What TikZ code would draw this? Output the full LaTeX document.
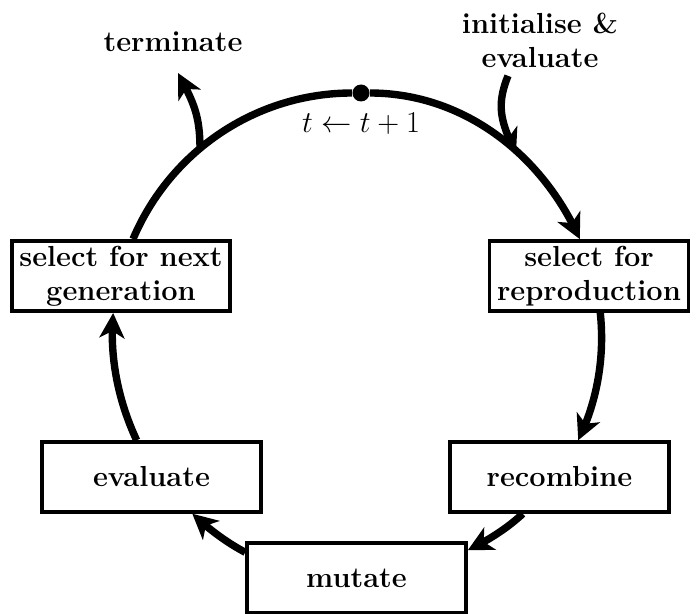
\documentclass[tikz,border=0pt]{standalone}
\usetikzlibrary{arrows.meta,bending,positioning}

\tikzset{
	stage/.style={draw, line width=2pt, align=center, inner xsep=0.15cm, inner ysep=0.1cm, minimum height=1.4cm},
	widestage/.style={stage, minimum width=4.38cm},
	cycleline/.style={line width=4.2pt},
	cyclearrow/.style={cycleline, -{Stealth[length=0.5cm,width=0.5cm,inset=0.14cm]}},
}

\begin{document}
\begin{tikzpicture}[font=\fontsize{16.5}{19.5}\selectfont\bfseries]
	\useasboundingbox (0,0) rectangle (13.92,12.26);

	% generation counter at the top of the loop
	\node[fill, circle, inner sep=0pt, minimum size=0.34cm] (tick) at (7.22,10.40) {};
	\node[below=0.1cm of tick] (incr) {$t \leftarrow t+1$};

	\node[stage] (selrep) at (11.78,6.74) {select for\\reproduction};
	\node[widestage] (recomb) at (11.19,2.72) {recombine};
	\node[widestage] (mutate) at (7.13,0.70) {mutate};
	\node[widestage] (eval) at (3.03,2.72) {evaluate};
	\node[stage] (selnext) at (2.42,6.74) {select for next\\generation};

	\node[inner sep=0pt] (term) at (3.46,11.42) {terminate};
	\node[inner sep=0pt, align=center] (init) at (10.8,11.46) {initialise \&\\evaluate};

	\coordinate (termfork) at (4.0,9.26);
	\coordinate (termtip) at (3.56,10.80);
	\coordinate (initfork) at (10.32,9.18);

	% the loop
	\draw[cycleline] (selnext.72) to[out=67, in=180, looseness=0.93] (tick);
	\draw[cyclearrow] (tick) to[out=0, in=114, looseness=0.93] (selrep.104);
	\draw[cyclearrow] (selrep.-73) to[out=-84, in=64, looseness=0.87] (recomb.63);
	\draw[cyclearrow] (recomb.-135) to[out=-137, in=26, looseness=0.86] (mutate.14);
	\draw[cyclearrow] (mutate.167) to[out=152, in=-43, looseness=0.86] (eval.-42);
	\draw[cyclearrow] (eval.112) to[out=115, in=-95, looseness=0.87] (selnext.-102);

	% entry and exit
	\draw[cyclearrow] (termfork) to[out=90, in=-62, looseness=1.1] (termtip);
	\draw[cyclearrow] ([xshift=-0.64cm, yshift=-0.16cm]init.south) to[out=-112, in=115, looseness=1.1] (initfork);
\end{tikzpicture}
\end{document}
